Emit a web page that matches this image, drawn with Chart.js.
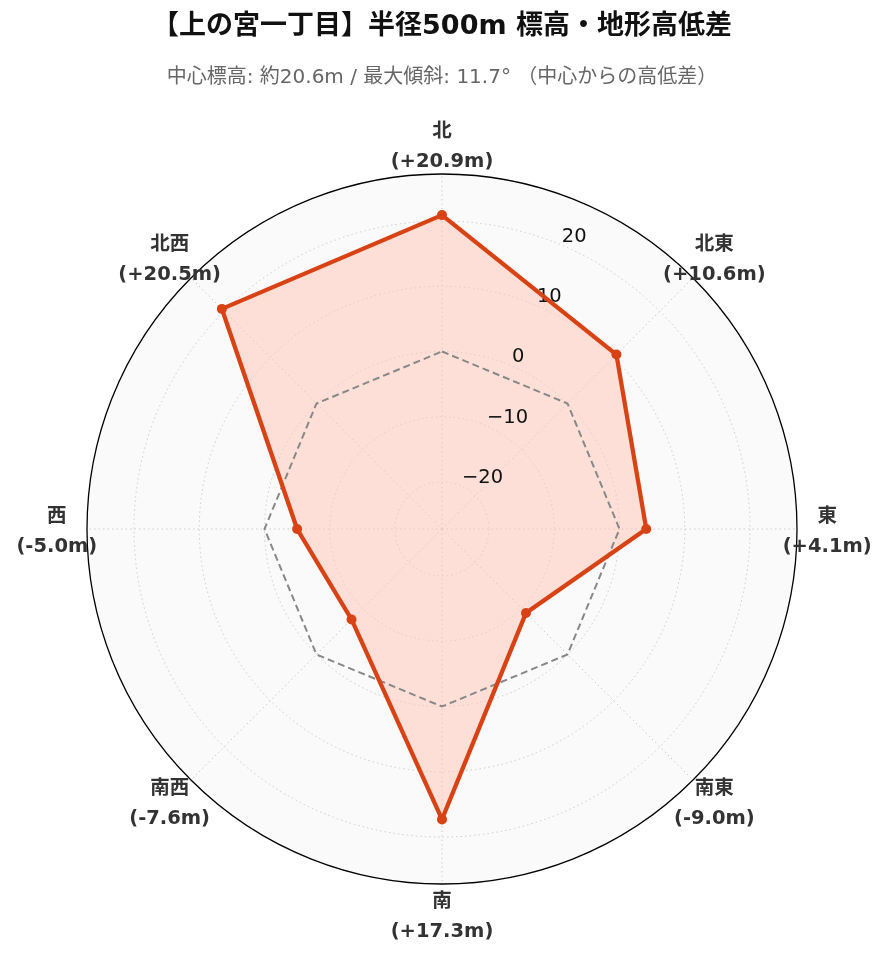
<!DOCTYPE html>
<html>
<head>
<meta charset="utf-8">
<script src="https://cdn.jsdelivr.net/npm/chart.js@4"></script>
<style>
    body { margin: 0; background: #ffffff; }
    canvas { display: block; }
</style>
</head>
<body>
<canvas id="chart" width="889" height="962"></canvas>
<script>
// Directions, clockwise from north
const DIRECTIONS = ['北', '北東', '東', '南東', '南', '南西', '西', '北西'];
// Elevation difference from the centre (m)
const ELEVATION_DIFF = [20.9, 10.6, 4.1, -9.0, 17.3, -7.6, -5.0, 20.5];
// Zero reference ring (centre elevation)
const ZERO_LINE = [0, 0, 0, 0, 0, 0, 0, 0];
const TICK_VALUES = [-20, -10, 0, 10, 20];
const AXIS_LIMIT = 27.2;

const FONT = "'DejaVu Sans', 'Noto Sans CJK JP', sans-serif";

const fmtDiff = (v) => '(' + (v >= 0 ? '+' : '-') + Math.abs(v).toFixed(1) + 'm)';
const fmtTick = (v) => (v < 0 ? '\u2212' + Math.abs(v) : String(v));

// outer black ring + radial tick labels at 22.5 deg (drawn under the data)
const underlayPlugin = {
    id: 'underlay',
    beforeDatasetsDraw(chart) {
        const scale = chart.scales.r;
        const ctx = chart.ctx;
        ctx.save();
        ctx.beginPath();
        ctx.arc(scale.xCenter, scale.yCenter, scale.drawingArea, 0, Math.PI * 2);
        ctx.strokeStyle = '#000000';
        ctx.lineWidth = 1.3;
        ctx.stroke();

        const ang = 22.5 * Math.PI / 180;
        ctx.font = '19.5px ' + FONT;
        ctx.fillStyle = '#111111';
        ctx.textAlign = 'left';
        ctx.textBaseline = 'bottom';
        TICK_VALUES.forEach((v) => {
            const r = scale.getDistanceFromCenterForValue(v);
            const x = scale.xCenter + r * Math.sin(ang);
            const y = scale.yCenter - r * Math.cos(ang);
            ctx.fillText(fmtTick(v), x + 2, y + 2);
        });
        ctx.restore();
    }
};

// two-line direction labels, centred on a fixed radius
const directionLabelPlugin = {
    id: 'directionLabels',
    afterDraw(chart) {
        const scale = chart.scales.r;
        const ctx = chart.ctx;
        ctx.save();
        ctx.font = 'bold 19.5px ' + FONT;
        ctx.fillStyle = '#333333';
        ctx.textAlign = 'center';
        ctx.textBaseline = 'middle';
        DIRECTIONS.forEach((name, i) => {
            const p = scale.getPointPosition(i, scale.drawingArea * 1.085);
            ctx.fillText(name, p.x, p.y - 12);
            ctx.fillText(fmtDiff(ELEVATION_DIFF[i]), p.x, p.y + 18);
        });
        ctx.restore();
    }
};

new Chart(document.getElementById('chart'), {
    type: 'radar',
    data: {
        labels: DIRECTIONS,
        datasets: [
            {
                label: '高低差',
                data: ELEVATION_DIFF,
                borderColor: '#d84315',
                backgroundColor: 'rgba(255, 200, 185, 0.55)',
                borderWidth: 4.3,
                fill: 'start',
                pointRadius: 5,
                pointBackgroundColor: '#d84315',
                pointBorderColor: '#d84315',
                pointBorderWidth: 0,
            },
            {
                label: '中心',
                data: ZERO_LINE,
                borderColor: '#888888',
                borderWidth: 2,
                borderDash: [7, 4],
                fill: false,
                pointRadius: 0,
            },
        ],
    },
    options: {
        responsive: false,
        animation: false,
        layout: {
            padding: { left: 87, right: 92, top: 0, bottom: 77 },
        },
        plugins: {
            legend: { display: false },
            tooltip: { enabled: false },
            filler: { drawTime: 'beforeDatasetsDraw' },
            title: {
                display: true,
                text: '【上の宮一丁目】半径500m 標高・地形高低差',
                color: '#111111',
                font: { family: FONT, size: 27, weight: 'bold' },
                padding: { top: 11, bottom: 22 },
            },
            subtitle: {
                display: true,
                text: '中心標高: 約20.6m / 最大傾斜: 11.7° （中心からの高低差）',
                color: '#666666',
                font: { family: FONT, size: 20 },
                padding: { top: 0, bottom: 84.8 },
            },
        },
        scales: {
            r: {
                min: -AXIS_LIMIT,
                max: AXIS_LIMIT,
                backgroundColor: '#fafafa',
                afterBuildTicks: (scale) => {
                    scale.ticks = TICK_VALUES.map((v) => ({ value: v }));
                },
                ticks: { display: false },
                pointLabels: { display: false },
                grid: {
                    circular: true,
                    color: '#cccccc',
                    lineWidth: 1,
                },
                border: { dash: [1.5, 3] },
                angleLines: {
                    color: '#cccccc',
                    lineWidth: 1,
                    borderDash: [1.5, 3],
                },
            },
        },
    },
    plugins: [underlayPlugin, directionLabelPlugin],
});
</script>
</body>
</html>
